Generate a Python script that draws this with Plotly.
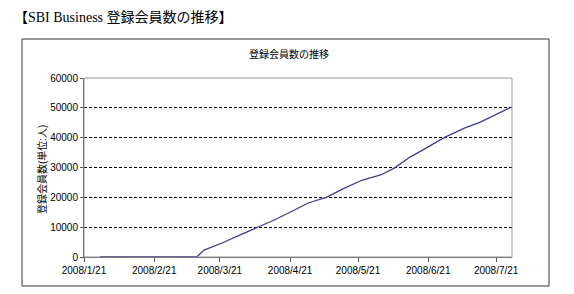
import plotly.graph_objects as go

# ---- data ----
dates = ["2008-01-28", "2008-03-11", "2008-03-14", "2008-03-22", "2008-03-30",
         "2008-04-07", "2008-04-14", "2008-04-21", "2008-04-29", "2008-05-07",
         "2008-05-15", "2008-05-23", "2008-05-31", "2008-06-06", "2008-06-13",
         "2008-06-21", "2008-06-28", "2008-07-07", "2008-07-14", "2008-07-27"]
members = [150, 150, 2300, 4700, 7400,
           10000, 12400, 15000, 18100, 20000,
           23100, 25800, 27500, 29800, 33500,
           36900, 40000, 43200, 45200, 50000]

x_tickvals = ["2008-01-21", "2008-02-21", "2008-03-21", "2008-04-21",
              "2008-05-21", "2008-06-21", "2008-07-21"]
x_ticktext = ["2008/1/21", "2008/2/21", "2008/3/21", "2008/4/21",
              "2008/5/21", "2008/6/21", "2008/7/21"]
y_tickvals = [0, 10000, 20000, 30000, 40000, 50000, 60000]

page_title = "【SBI Business 登録会員数の推移】"
chart_title = "登録会員数の推移"
y_title = "登録会員数(単位:人)"

# ---- layout geometry (pixels) ----
W, H = 574, 294
PL, PR, PT, PB = 84, 512, 78, 257
pw, ph = PR - PL, PB - PT


def px(x):
    return (x - PL) / pw


def py(y):
    return (PB - y) / ph


cjk = "Liberation Sans, Noto Sans CJK JP, sans-serif"

fig = go.Figure()
fig.add_trace(go.Scatter(x=dates, y=members, mode="lines",
                         line=dict(color="#3d3d8f", width=1.3),
                         hoverinfo="skip", showlegend=False))

fig.update_layout(
    width=W, height=H,
    margin=dict(l=PL, r=W - PR, t=PT, b=H - PB, pad=0),
    paper_bgcolor="white", plot_bgcolor="white",
    font=dict(family=cjk, size=10, color="#000"),
    xaxis=dict(
        type="date", range=["2008-01-21", "2008-07-28"],
        tickvals=x_tickvals, ticktext=x_ticktext,
        showgrid=False, zeroline=False,
        showline=True, linecolor="#555", linewidth=1,
        ticks="outside", ticklen=4, tickcolor="#555",
        tickfont=dict(family="Liberation Sans, Arial", size=10, color="#000"),
    ),
    yaxis=dict(
        range=[0, 60000], tickvals=y_tickvals, tickformat="d",
        showgrid=True, gridcolor="#000", gridwidth=1, griddash="3px,2px",
        zeroline=False,
        showline=True, linecolor="#555", linewidth=1,
        ticks="outside", ticklen=3, tickcolor="#555",
        tickfont=dict(family="Liberation Sans, Arial", size=10, color="#000"),
    ),
    shapes=[
        # plot-area border (gray)
        dict(type="rect", xref="paper", yref="paper", x0=0, x1=1, y0=0, y1=1,
             line=dict(color="#999", width=1), layer="above"),
        # outer chart frame
        dict(type="rect", xref="paper", yref="paper",
             x0=px(22), x1=px(549), y0=py(286), y1=py(39),
             line=dict(color="#333", width=1), layer="above"),
    ],
    annotations=[
        dict(text=page_title, xref="paper", yref="paper",
             x=px(12), y=py(17), xanchor="left", yanchor="middle",
             showarrow=False,
             font=dict(family="Liberation Serif, Noto Sans CJK JP, serif",
                       size=14, color="#000")),
        dict(text=chart_title, xref="paper", yref="paper",
             x=px(289), y=py(54), xanchor="center", yanchor="middle",
             showarrow=False,
             font=dict(family="Noto Sans CJK JP", size=10, color="#000")),
        dict(text=y_title, xref="paper", yref="paper",
             x=px(42), y=py(170), xanchor="center", yanchor="middle",
             textangle=-90, showarrow=False,
             font=dict(family="Liberation Sans, Noto Sans CJK JP", size=10,
                       color="#000")),
    ],
)

fig.write_html("out.html")
